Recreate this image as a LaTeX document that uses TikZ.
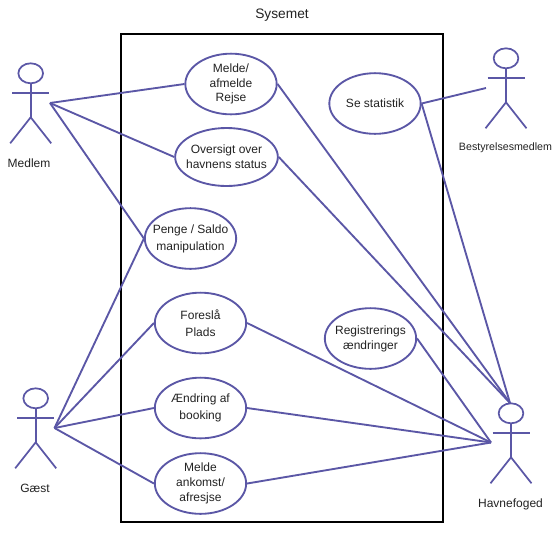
\documentclass[tikz,border=0pt]{standalone}
\usepackage{fontspec}
\setmainfont{Liberation Sans}
\usetikzlibrary{shapes.geometric}
\definecolor{umlline}{HTML}{5B57A6}
\definecolor{umltext}{HTML}{222222}
\tikzset{
  usecase/.style={ellipse,draw=umlline,line width=1.4pt,inner sep=0pt,
    minimum width=68.5pt,minimum height=45.5pt},
  usecasetext/.style={align=center,text=umltext,inner sep=0pt,
    font=\fontsize{9}{11.1}\selectfont},
  link/.style={draw=umlline,line width=1.4pt},
  actorlabel/.style={text=umltext,inner sep=0pt,font=\fontsize{9}{11}\selectfont},
  pics/actor/.style={code={
    \node[ellipse,draw=umlline,line width=1.3pt,inner sep=0pt,minimum width=18.5pt,minimum height=15pt] (-head) at (0,0) {};
    \draw[umlline,line width=1.3pt] (-head.south) -- (0,44);
    \draw[umlline,line width=1.3pt] (-18.5,19.5) -- (18.5,19.5);
    \draw[umlline,line width=1.3pt] (-20.5,70) -- (0,44) -- (20.5,70);
  }}
}
\begin{document}
\begin{tikzpicture}[x=0.75pt,y=-0.75pt]
\useasboundingbox (0,0) rectangle (559,533);
\draw[black,line width=1.9pt] (121,34) rectangle (443,522);
\node[text=umltext,inner sep=0pt,font=\fontsize{10.3}{12}\selectfont] (title) at (282,15) {Sysemet};

\node[usecase,label={[usecasetext]center:Melde/\\afmelde\\Rejse}] (melde) at (231,84) {};
\node[usecase,minimum width=77pt,minimum height=43.5pt,label={[usecasetext]center:Oversigt over\\havnens status}] (oversigt) at (226.5,157) {};
\node[usecase,label={[usecasetext]center:Penge / Saldo\\[1.5pt]manipulation}] (penge) at (190.5,238.5) {};
\node[usecase,label={[usecasetext]center:Se statistik}] (statistik) at (375,103.5) {};
\node[usecase,label={[usecasetext]center:Foreslå\\[2pt]Plads}] (foresla) at (200.5,323) {};
\node[usecase,label={[usecasetext]center:Ændring af\\[2pt]booking}] (aendring) at (200.5,408) {};
\node[usecase,label={[usecasetext]center:Melde\\ankomst/\\afresjse}] (ankomst) at (200.5,483.5) {};
\node[usecase,label={[usecasetext]center:Registrerings\\ændringer}] (registrering) at (370.5,338.5) {};

\pic (medlem) at (30.7,73.3) {actor};
\pic (gaest) at (35.7,398.3) {actor};
\pic (bestyrelse) at (506,58.3) {actor};
\pic (havne) at (511,413.3) {actor};

\node[actorlabel] (medlemlabel) at (29,163.5) {Medlem};
\node[actorlabel] (gaestlabel) at (35,488.5) {Gæst};
\node[actorlabel,font=\fontsize{8}{10}\selectfont] (bestyrelselabel) at (505.5,148) {Bestyrelsesmedlem};
\node[actorlabel] (havnelabel) at (510.5,504) {Havnefoged};

\coordinate (medlemhand) at (50,103);
\coordinate (gaesthand) at (54.5,428);
\coordinate (bestyrelsehand) at (486,88);
\coordinate (havnehand) at (491,442.5);
\coordinate (havnetop) at (510,403);

\draw[link] (medlemhand) -- (melde.west);
\draw[link] (medlemhand) -- (oversigt.west);
\draw[link] (medlemhand) -- (penge.west);
\draw[link] (gaesthand) -- (penge.west);
\draw[link] (gaesthand) -- (foresla.west);
\draw[link] (gaesthand) -- (aendring.west);
\draw[link] (gaesthand) -- (ankomst.west);
\draw[link] (melde.east) -- (havnetop);
\draw[link] (oversigt.east) -- (havnetop);
\draw[link] (statistik.east) -- (havnetop);
\draw[link] (statistik.east) -- (bestyrelsehand);
\draw[link] (registrering.east) -- (havnehand);
\draw[link] (foresla.east) -- (havnehand);
\draw[link] (aendring.east) -- (havnehand);
\draw[link] (ankomst.east) -- (havnehand);
\end{tikzpicture}
\end{document}
